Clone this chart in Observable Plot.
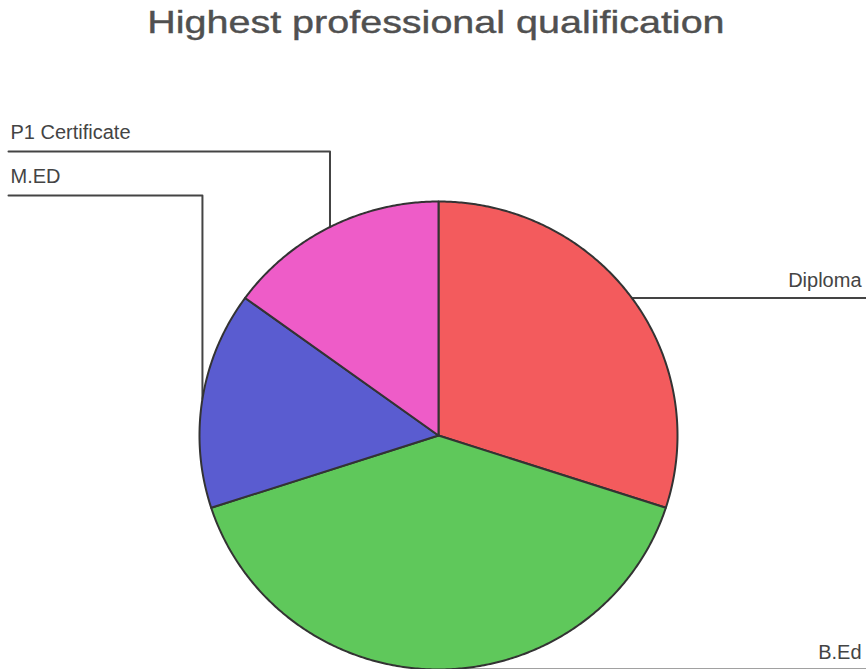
<!DOCTYPE html>
<html><head><meta charset="utf-8">
<script src="https://cdn.jsdelivr.net/npm/d3@7"></script>
<script src="https://cdn.jsdelivr.net/npm/@observablehq/plot@0.6"></script>
<style>
body{margin:0;background:#fff;overflow:hidden;}
#title{height:70px;text-align:center;font-family:"Liberation Sans",Arial,sans-serif;font-size:32px;color:#505050;line-height:32px;}
#title span{display:inline-block;transform:scaleX(1.234);padding-top:6px;margin-left:5px;-webkit-text-stroke:0.4px #505050;}
#chart svg{display:block;}
</style></head><body>
<div id="title"><span>Highest professional qualification</span></div>
<div id="chart"></div>
<script>
// ---- data ----
const categories = ["Diploma", "B.Ed", "M.ED", "P1 Certificate"];
const values = [30, 40, 15, 15];
const colors = ["#f35b5d", "#5fc85b", "#5a5cd0", "#ee5cc8"];

// ---- layout (pixels in the svg) ----
const W = 866, H = 599;
const cxPx = 438, cyPx = 365, rxPx = 239, ryPx = 234;
const labelLayout = {
  "Diploma": {side: "right"},
  "B.Ed": {side: "right"},
  "M.ED": {side: "left", rowPx: 125},
  "P1 Certificate": {side: "left", rowPx: 81}
};
const toU = px => (px - cxPx) / rxPx;
const toV = px => (px - cyPx) / ryPx;

const arcs = d3.pie().sort(null)(values);
const slices = arcs.map((a, i) => {
  const pts = [{x: 0, y: 0}];
  const n = Math.max(8, Math.ceil((a.endAngle - a.startAngle) / (Math.PI / 360)));
  for (let k = 0; k <= n; k++) {
    const t = a.startAngle + (a.endAngle - a.startAngle) * k / n;
    pts.push({x: Math.sin(t), y: -Math.cos(t)});
  }
  return {name: categories[i], color: colors[i], pts, mid: (a.startAngle + a.endAngle) / 2};
});

const leaders = [];
const labels = [];
slices.forEach(s => {
  const L = labelLayout[s.name];
  const ax = Math.sin(s.mid), ay = -Math.cos(s.mid);
  const rowV = L.rowPx !== undefined ? toV(L.rowPx) : ay;
  const endU = L.side === "left" ? toU(8) : toU(W);
  leaders.push({name: s.name, x: ax, y: ay});
  leaders.push({name: s.name, x: ax, y: rowV});
  leaders.push({name: s.name, x: endU, y: rowV});
  labels.push({name: s.name, x: L.side === "left" ? toU(10) : toU(861), y: rowV, anchor: L.side === "left" ? "start" : "end"});
});

const chart = Plot.plot({
  width: W, height: H,
  margin: 0,
  x: {domain: [toU(0), toU(W)], range: [0, W], axis: null},
  y: {domain: [toV(0), toV(H)], range: [0, H], axis: null},
  style: {background: "#fff"},
  marks: [
    Plot.line(leaders, {x: "x", y: "y", z: "name", stroke: "#444", strokeWidth: 2}),
    ...slices.map(s => Plot.line(s.pts, {x: "x", y: "y", fill: s.color, stroke: "#333", strokeWidth: 2, curve: "linear-closed"})),
    Plot.text(labels.filter(d => d.anchor === "start"), {x: "x", y: "y", text: "name", textAnchor: "start", lineAnchor: "middle", dy: -19, fontSize: 20, fill: "#444", fontFamily: "Liberation Sans, Arial, sans-serif"}),
    Plot.text(labels.filter(d => d.anchor === "end"), {x: "x", y: "y", text: "name", textAnchor: "end", lineAnchor: "middle", dy: -17, fontSize: 20, fill: "#444", fontFamily: "Liberation Sans, Arial, sans-serif"})
  ]
});
document.getElementById("chart").appendChild(chart);
</script>
</body></html>
